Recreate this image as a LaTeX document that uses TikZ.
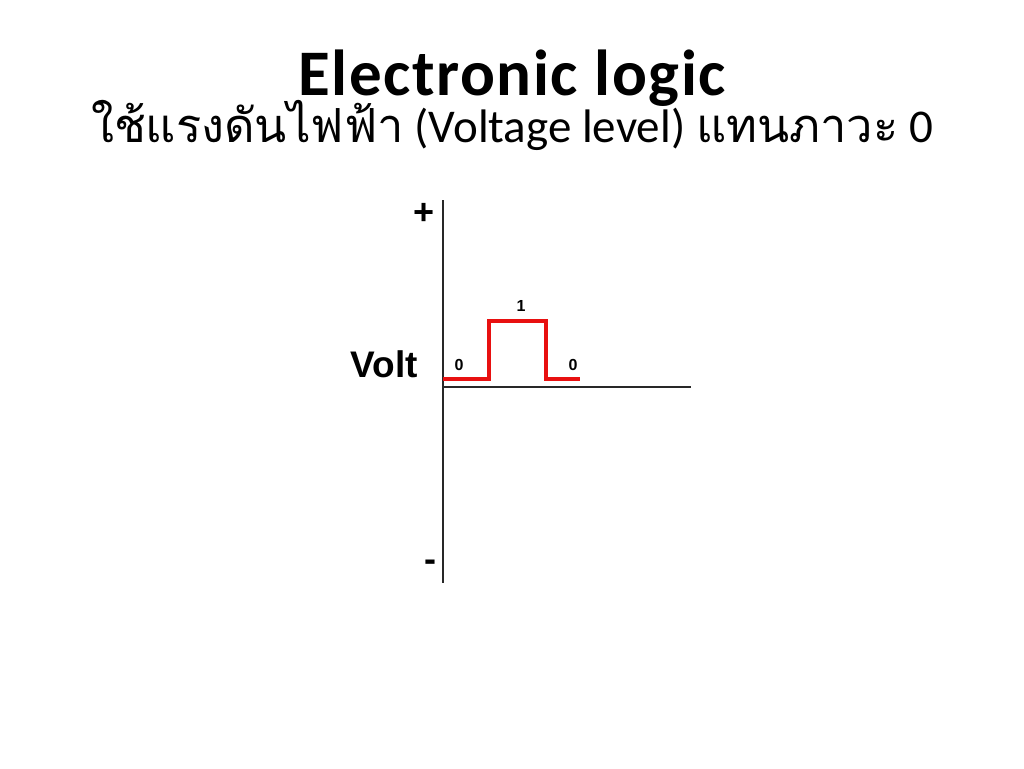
\documentclass[tikz,border=0pt]{standalone}
\usepackage{fontspec}
\setmainfont{Carlito}
\newfontfamily\titlefont[LetterSpace=2.5]{Carlito}
\newfontfamily\thaifont[Script=Thai]{Loma}
\newfontfamily\arialfont{Liberation Sans}
\definecolor{sigred}{RGB}{232,16,16}
\definecolor{axisgray}{RGB}{40,40,40}
\begin{document}
\begin{tikzpicture}[x=1pt,y=-1pt,
  axisline/.style={draw=axisgray,line width=1.3pt},
  signal/.style={draw=sigred,line width=3.6pt,line join=miter,line cap=butt},
  bitlabel/.style={font=\arialfont\bfseries\fontsize{16}{18}\selectfont,inner sep=0pt,anchor=base},
  signlabel/.style={font=\arialfont\bfseries\fontsize{36}{40}\selectfont,inner sep=0pt}]
\useasboundingbox (0,0) rectangle (1024,768);
\fill[white] (0,0) rectangle (1024,768);
% title
\node[anchor=base,inner sep=0pt,font=\titlefont\bfseries\fontsize{65}{70}\selectfont] (title) at (512,95) {Electronic logic};
\node[anchor=base,inner sep=0pt,font=\fontsize{47}{52}\selectfont] (subtitle) at (512,142)
  {{\thaifont ใช้แรงดันไฟฟ้า} (Voltage level) {\thaifont แทนภาวะ} 0};
% axes
\coordinate (ytop) at (443,200);
\coordinate (ybot) at (443,583);
\coordinate (xorig) at (443,387);
\coordinate (xend) at (691,387);
\draw[axisline] (ytop) -- (ybot);
\draw[axisline] (xorig) -- (xend);
% signal
\coordinate (s0) at (443,379);
\coordinate (s1) at (489,379);
\coordinate (s2) at (489,321);
\coordinate (s3) at (546,321);
\coordinate (s4) at (546,379);
\coordinate (s5) at (580,379);
\draw[signal] (s0) -- (s1) -- (s2) -- (s3) -- (s4) -- (s5);
% labels
\node[bitlabel] (b0) at (459,370) {0};
\node[bitlabel] (b1) at (521,311) {1};
\node[bitlabel] (b2) at (573,370) {0};
\node[anchor=base east,inner sep=0pt,font=\arialfont\bfseries\fontsize{37}{40}\selectfont] (volt) at (418,377) {Volt};
\node[signlabel] (plus) at (424,214) {+};
\node[signlabel] (minus) at (430,566) {-};
\end{tikzpicture}
\end{document}
